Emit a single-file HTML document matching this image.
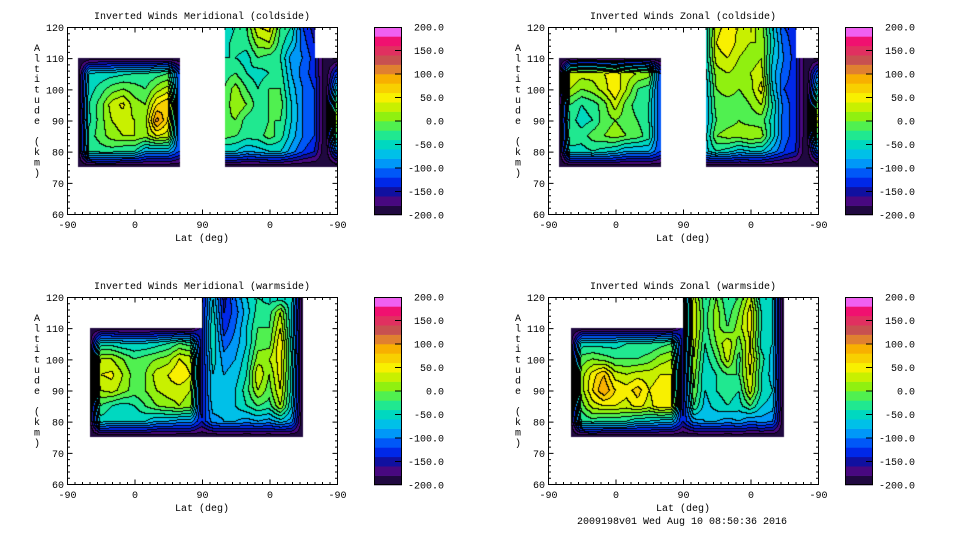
<!DOCTYPE html>
<html><head><meta charset="utf-8">
<style>
html,body{margin:0;padding:0;background:#fff;}
#root{position:relative;width:960px;height:540px;overflow:hidden;background:#fff;}
canvas{position:absolute;}
svg{position:absolute;left:0;top:0;}
text{font-family:"Liberation Mono","DejaVu Sans Mono",monospace;font-size:10px;fill:#000;}
</style></head>
<body>
<div id="root">
<canvas id="c0"></canvas>
<canvas id="c1"></canvas>
<canvas id="c2"></canvas>
<canvas id="c3"></canvas>
<svg id="ov" width="960" height="540"></svg>
</div>
<script>
const n = null;
// axis units: 0..360 maps to lat -90,0,90,0,-90
const colU = [0,15,30,45,60,75,90,105,120,135,150,165,180,195,210,225,240,255,270,285,300,315,330,345,360];
const rowAlt = [120,115,110,105,100,95,90,85,80,75];
const xTickLabels = ["-90","0","90","0","-90"];
const yTickLabels = ["60","70","80","90","100","110","120"];
const cbLabels = ["200.0","150.0","100.0","50.0","0.0","-50.0","-100.0","-150.0","-200.0"];
const levelMin = -200, levelStep = 20;
const levelColors = ["#200840","#480880","#1010a0","#0028e8","#0058f8","#0098f8","#00c0e8","#00d8c0","#20e890","#50f050","#90f010","#c8f000","#f8f000","#f8d000","#f8b000","#e08030","#c85050","#e03060","#f01070","#f060f0"];
const titles = ["Inverted Winds Meridional (coldside)","Inverted Winds Zonal (coldside)","Inverted Winds Meridional (warmside)","Inverted Winds Zonal (warmside)"];

const merColdValues = [
[n,n,n,n,n,n,n,n,n,n,n,n,n,n,-60,-40,-20,40,50,-20,-40,-120,-150,n,n],
[n,n,n,n,n,n,n,n,n,n,n,n,n,n,-50,-30,-30,10,20,-30,-60,-110,-140,n,n],
[n,-200,-200,-200,-200,-200,-200,-200,-200,-200,-200,n,n,n,-40,-40,-50,-20,-30,-40,-90,-100,-130,-200,-200],
[n,-200,-60,-55,-50,-45,-40,-40,-30,-20,-120,n,n,n,-30,-20,-40,-50,-40,-30,-80,-110,-130,-200,-120],
[n,-200,-50,-30,-10,0,-10,-20,10,30,-120,n,n,n,-20,10,-20,-40,-20,-20,-70,-100,-120,-200,-60],
[n,-200,-40,-10,30,45,10,0,60,80,-120,n,n,n,-20,20,0,-30,-20,-10,-60,-100,-120,-200,0],
[n,-200,-45,-10,20,30,20,10,110,60,-120,n,n,n,-10,0,-30,-40,-20,-20,-60,-100,-120,-200,20],
[n,-200,-30,-10,10,20,20,10,40,30,-120,n,n,n,-10,-20,-30,-30,-10,-30,-70,-100,-120,-200,-20],
[n,-200,-40,-30,-30,-40,-40,-80,-80,-80,-120,n,n,n,-60,-60,-80,-70,-60,-60,-90,-120,-140,-200,-100],
[n,-200,-200,-200,-200,-200,-200,-200,-200,-200,-200,n,n,n,-200,-200,-200,-200,-200,-200,-200,-200,-200,-200,-200]
];
const zonColdValues = [
[n,n,n,n,n,n,n,n,n,n,n,n,n,n,-60,30,50,40,30,10,-60,-120,-130,n,n],
[n,n,n,n,n,n,n,n,n,n,n,n,n,n,-60,40,60,30,20,20,-50,-110,-130,n,n],
[n,-200,-200,-200,-200,-200,-200,-200,-200,-200,-200,n,n,n,-60,30,40,20,10,20,-60,-100,-130,-200,-200],
[n,-200,40,30,30,40,50,30,20,10,-120,n,n,n,-70,10,20,10,20,30,-70,-110,-130,-200,-100],
[n,-200,20,0,10,30,60,20,-20,-30,-120,n,n,n,-80,0,10,0,10,50,-60,-120,-130,-200,-50],
[n,-200,-20,-40,-30,-10,30,-10,-30,-40,-120,n,n,n,-80,-10,-10,-10,0,20,-40,-110,-130,-200,0],
[n,-200,-30,-50,-40,-10,0,-10,-20,-40,-120,n,n,n,-80,-20,-10,0,-10,-10,-50,-110,-130,-200,40],
[n,-200,-20,-30,-10,0,10,0,-10,-30,-120,n,n,n,-70,0,10,10,20,10,-50,-110,-130,-200,-20],
[n,-200,-50,-50,-40,-50,-60,-80,-80,-80,-120,n,n,n,-70,-40,-50,-70,-60,-60,-90,-120,-140,-200,-100],
[n,-200,-200,-200,-200,-200,-200,-200,-200,-200,-200,n,n,n,-200,-200,-200,-200,-200,-200,-200,-200,-200,-200,-200]
];
const merWarmValues = [
[n,n,n,n,n,n,n,n,n,n,n,n,-150,-60,-150,-100,-60,-40,-50,-60,-50,-200,n,n,n],
[n,n,n,n,n,n,n,n,n,n,n,n,-150,-50,-140,-110,-70,-30,-30,20,-60,-200,n,n,n],
[n,n,-200,-200,-200,-200,-200,-200,-200,-200,-200,-200,-150,-40,-130,-100,-60,-20,-20,40,-60,-200,n,n,n],
[n,n,-200,-50,-50,-60,-60,-60,-50,-40,-20,-30,-150,-40,-110,-90,-60,-10,-10,60,-50,-200,n,n,n],
[n,n,-200,20,20,0,-20,-10,0,10,40,30,-150,-50,-90,-80,-50,10,20,50,-40,-200,n,n,n],
[n,n,-200,40,45,20,-10,0,30,40,60,40,-150,-60,-80,-70,-40,40,0,50,-50,-200,n,n,n],
[n,n,-200,20,30,10,-10,0,20,30,30,20,-150,-60,-70,-60,-30,20,-10,40,-50,-200,n,n,n],
[n,n,-200,-20,-40,-50,-40,-20,0,10,20,10,-150,-70,-70,-60,-40,-20,-30,20,-60,-200,n,n,n],
[n,n,-200,-50,-60,-60,-60,-60,-80,-80,-90,-90,-140,-90,-80,-80,-90,-80,-90,-70,-90,-200,n,n,n],
[n,n,-200,-200,-200,-200,-200,-200,-200,-200,-200,-200,-200,-200,-200,-200,-200,-200,-200,-200,-200,-200,n,n,n]
];
const zonWarmValues = [
[n,n,n,n,n,n,n,n,n,n,n,n,-150,30,-40,0,-40,-20,30,-60,-60,-200,n,n,n],
[n,n,n,n,n,n,n,n,n,n,n,n,-150,40,-30,10,-30,0,50,-40,-60,-200,n,n,n],
[n,n,-200,-200,-200,-200,-200,-200,-200,-200,-200,-200,-150,40,-30,10,-20,10,50,-40,-60,-200,n,n,n],
[n,n,-200,-50,-50,-50,-50,-40,-40,-40,-30,-20,-150,30,-40,0,40,-10,40,-50,-60,-200,n,n,n],
[n,n,-200,-10,0,-10,-20,-20,-20,-10,10,20,-150,20,-50,-20,30,-30,50,-30,-70,-200,n,n,n],
[n,n,-200,10,50,80,30,20,30,30,40,40,-150,10,-60,-40,-20,-20,40,-40,-70,-200,n,n,n],
[n,n,-200,10,60,100,60,50,70,40,50,40,-150,0,-60,-40,-30,-40,30,-40,-60,-200,n,n,n],
[n,n,-200,-10,30,40,40,30,50,30,60,50,-150,-20,-70,-50,-40,-50,-20,-60,-70,-200,n,n,n],
[n,n,-200,-40,-30,-40,-40,-40,-60,-60,-70,-70,-140,-90,-80,-80,-90,-80,-100,-90,-100,-200,n,n,n],
[n,n,-200,-200,-200,-200,-200,-200,-200,-200,-200,-200,-200,-200,-200,-200,-200,-200,-200,-200,-200,-200,n,n,n]
];
const panelValues = [merColdValues, zonColdValues, merWarmValues, zonWarmValues];

const boxes = [{x:67,y:27},{x:548,y:27},{x:67,y:297},{x:548,y:297}];
const cbX = [374,845];
const PW = 270, PH = 187, CBW = 28, CBH = 188;
const NS = "http://www.w3.org/2000/svg";
const ov = document.getElementById('ov');

function hex(c){return [parseInt(c.substr(1,2),16),parseInt(c.substr(3,2),16),parseInt(c.substr(5,2),16)];}
const rgb = levelColors.map(hex);

function findIdx(arr, v, desc){
  for(let i=0;i<arr.length-1;i++){
    const a=arr[i], b=arr[i+1];
    if(desc ? (v<=a && v>=b) : (v>=a && v<=b)) return i;
  }
  return -1;
}
function sample(vals,u,alt){
  const i=findIdx(colU,u,false), j=findIdx(rowAlt,alt,true);
  if(i<0||j<0) return null;
  const a=vals[j][i], b=vals[j][i+1], c=vals[j+1][i], d=vals[j+1][i+1];
  if(a===null||b===null||c===null||d===null) return null;
  const fx=(u-colU[i])/(colU[i+1]-colU[i]);
  const fy=(rowAlt[j]-alt)/(rowAlt[j]-rowAlt[j+1]);
  return (a*(1-fx)+b*fx)*(1-fy)+(c*(1-fx)+d*fx)*fy;
}

function mk(tag, attrs, parent){
  const e=document.createElementNS(NS,tag);
  for(const k in attrs) e.setAttribute(k,attrs[k]);
  (parent||ov).appendChild(e);
  return e;
}

panelValues.forEach((vals,p)=>{
  const bx=boxes[p].x, by=boxes[p].y;
  const cv=document.getElementById('c'+p);
  cv.width=PW; cv.height=PH;
  cv.style.left=bx+'px'; cv.style.top=by+'px';
  const ctx=cv.getContext('2d');
  const img=ctx.createImageData(PW,PH);
  const band=new Int16Array(PW*PH);
  for(let y=0;y<PH;y++){
    const alt=120-(y+0.5)/PH*60;
    for(let x=0;x<PW;x++){
      const u=(x+0.5)/PW*360;
      const v=sample(vals,u,alt);
      let b=-1;
      if(v!==null){ b=Math.floor((v-levelMin)/levelStep); if(b<0)b=0; if(b>19)b=19; }
      band[y*PW+x]=b;
    }
  }
  for(let y=0;y<PH;y++){
    for(let x=0;x<PW;x++){
      const k=y*PW+x, b=band[k], o=k*4;
      if(b<0){img.data[o]=255;img.data[o+1]=255;img.data[o+2]=255;img.data[o+3]=0;continue;}
      let line=false;
      if(x+1<PW && band[k+1]>=0 && band[k+1]!==b) line=true;
      if(y+1<PH && band[k+PW]>=0 && band[k+PW]!==b) line=true;
      const c=line?[0,0,0]:rgb[b];
      img.data[o]=c[0];img.data[o+1]=c[1];img.data[o+2]=c[2];img.data[o+3]=255;
    }
  }
  ctx.putImageData(img,0,0);

  const g=mk('g',{});
  
  
  mk('rect',{x:bx+0.5,y:by+0.5,width:PW,height:PH,fill:'none',stroke:'#000','stroke-width':1},g);
  const xs=u=>bx+0.5+u/360*PW;
  const ys=a=>by+0.5+(120-a)/60*PH;
  let d='';
  for(let u=0;u<=360;u+=10){
    const L=(u%90===0)?5:2.5;
    d+=`M${xs(u)},${by+PH+0.5}v${-L}M${xs(u)},${by+0.5}v${L}`;
  }
  for(let a=60;a<=120;a+=2){
    const L=(a%10===0)?5:2.5;
    d+=`M${bx+0.5},${ys(a)}h${L}M${bx+PW+0.5},${ys(a)}h${-L}`;
  }
  mk('path',{d:d,stroke:'#000','stroke-width':1,fill:'none'},g);
  xTickLabels.forEach((t,i)=>{
    const e=mk('text',{x:xs(i*90),y:by+PH+14,'text-anchor':'middle'},g);
    e.textContent=t;
    
    
  });
  yTickLabels.forEach((t,i)=>{
    const e=mk('text',{x:bx-3,y:ys(60+i*10)+3.5,'text-anchor':'end'},g);
    e.textContent=t;
    
    
  });
  const tt=mk('text',{x:bx+PW/2,y:by-8,'text-anchor':'middle'},g);
  tt.textContent=titles[p];
  
  
  const xl=mk('text',{x:bx+PW/2,y:by+PH+27,'text-anchor':'middle'},g);
  xl.textContent='Lat (deg)';
  
  
  const yl=mk('text',{x:bx-30,y:by+24,'text-anchor':'middle'},g);
  
  
  'Altitude (km)'.split('').forEach((ch,i)=>{
    const s=mk('tspan',{x:bx-30,y:by+24+i*10.4},yl);
    s.textContent=ch;
  });

  const cx=cbX[p%2], cy=by;
  const cg=mk('g',{});
  
  
  const bh=CBH/levelColors.length;
  levelColors.forEach((c,i)=>{
    const r=mk('rect',{x:cx,y:cy+CBH-(i+1)*bh,width:CBW,height:bh+0.3,fill:c},cg);
    
    
  });
  mk('rect',{x:cx+0.5,y:cy+0.5,width:CBW-1,height:CBH-1,fill:'none',stroke:'#000','stroke-width':1},cg);
  let td='';
  cbLabels.forEach((t,i)=>{
    const yy=cy+i*CBH/(cbLabels.length-1);
    if(i>0&&i<cbLabels.length-1) td+=`M${cx+CBW},${yy}h-7`;
    const e=mk('text',{x:cx+70,y:yy+3.5,'text-anchor':'end'},cg);
    e.textContent=t;
    
    
  });
  mk('path',{d:td,stroke:'#000','stroke-width':1},cg);
});

const ft=mk('text',{x:682,y:524,'text-anchor':'middle'});
ft.textContent='2009198v01 Wed Aug 10 08:50:36 2016';


</script>
</body></html>
